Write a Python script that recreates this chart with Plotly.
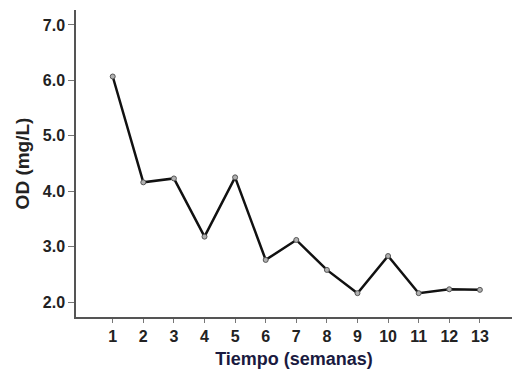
import plotly.graph_objects as go

weeks = list(range(1, 14))
od = [6.07, 4.16, 4.23, 3.18, 4.25, 2.76, 3.12, 2.58, 2.16, 2.83, 2.16, 2.23, 2.22]
y_ticks = [2.0, 3.0, 4.0, 5.0, 6.0, 7.0]
y_tick_labels = ["2.0", "3.0", "4.0", "5.0", "6.0", "7.0"]

fig = go.Figure()
fig.add_trace(go.Scatter(
    x=weeks, y=od, mode="lines+markers",
    line=dict(color="#111111", width=2.5),
    marker=dict(size=5, color="#b0b0b0", line=dict(color="#555555", width=1)),
    showlegend=False,
))

fig.update_layout(
    width=512, height=377,
    margin=dict(l=76, r=0, t=10, b=60),
    paper_bgcolor="white", plot_bgcolor="white",
    font=dict(family="Liberation Sans, Arial, sans-serif", color="#333333"),
)
fig.update_xaxes(
    range=[-0.2, 14.05], tickvals=weeks, ticktext=[str(w) for w in weeks],
    showgrid=False, zeroline=False, showline=True, linecolor="#555555", linewidth=1.5,
    ticks="outside", ticklen=4, tickcolor="#777777",
    tickfont=dict(size=16, family="Liberation Sans, Arial, sans-serif", color="#222222", weight="bold"),
    title=dict(text="<b>Tiempo (semanas)</b>", font=dict(size=18, color="#1a1a40"), standoff=8),
)
fig.update_yaxes(
    range=[1.73, 7.27], tickvals=y_ticks, ticktext=y_tick_labels,
    showgrid=False, zeroline=False, showline=True, linecolor="#555555", linewidth=1.5,
    ticks="outside", ticklen=6, tickcolor="#777777",
    tickfont=dict(size=16, family="Liberation Sans, Arial, sans-serif", color="#222222", weight="bold"),
    title=dict(text="<b>OD (mg/L)</b>", font=dict(size=19, color="#222222"), standoff=8),
)

fig.write_html("out.html")
